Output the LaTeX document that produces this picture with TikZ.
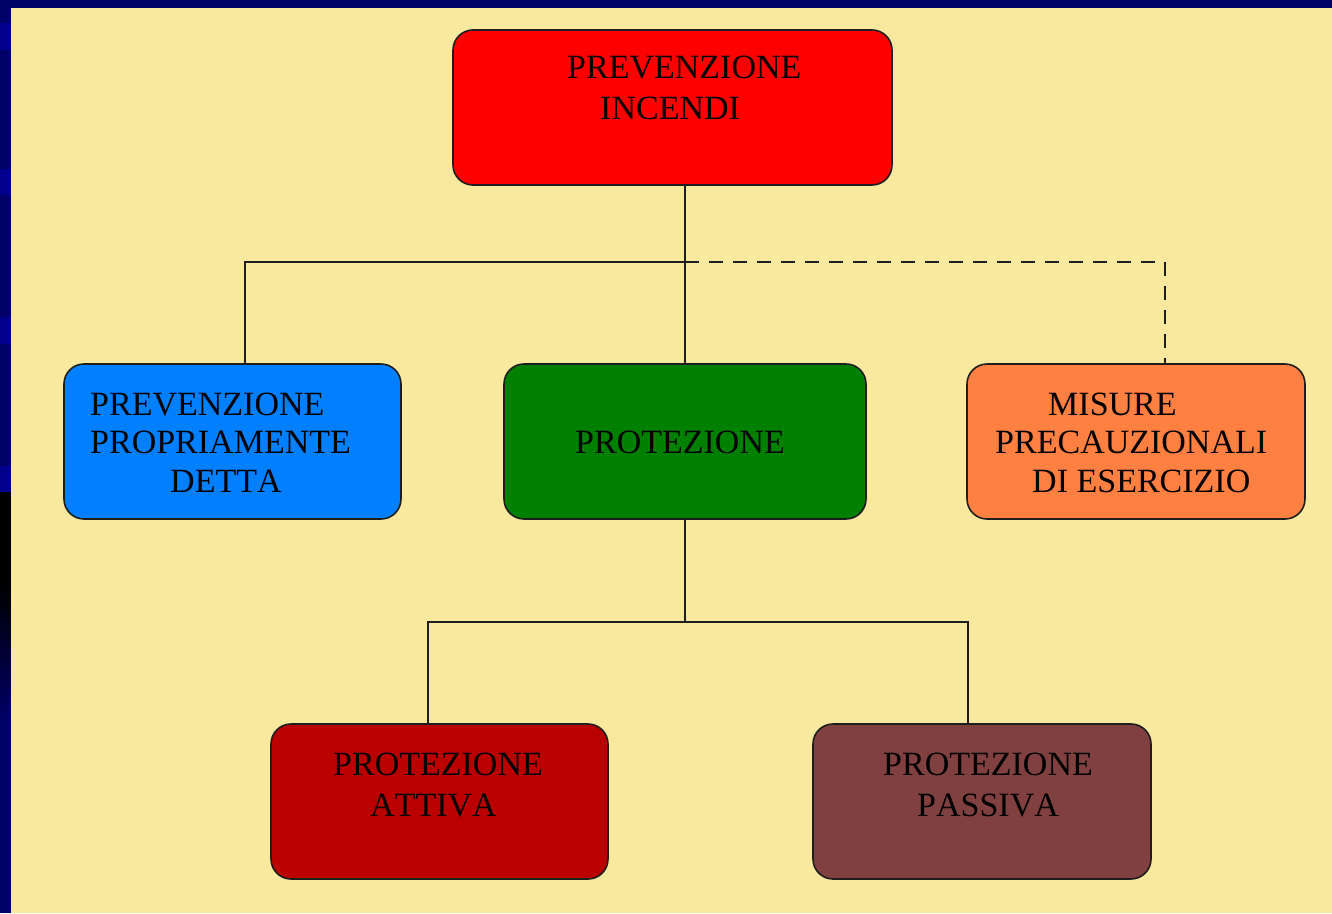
\documentclass[tikz,border=0pt]{standalone}
\usepackage{fontspec}
\setmainfont[Kerning=Off]{Liberation Serif}
\definecolor{navy}{RGB}{0,0,102}
\definecolor{navylight}{RGB}{0,0,140}
\definecolor{paper}{RGB}{248,233,158}
\definecolor{cred}{RGB}{255,0,0}
\definecolor{cblue}{RGB}{0,128,255}
\definecolor{cgreen}{RGB}{0,128,0}
\definecolor{corange}{RGB}{255,128,64}
\definecolor{cdarkred}{RGB}{187,0,0}
\definecolor{cbrown}{RGB}{128,64,64}
\definecolor{edge}{RGB}{30,30,30}
\begin{document}
\begin{tikzpicture}[x=1pt,y=-1pt,
  box/.style={draw=edge,line width=1.6pt,rounded corners=20pt,
    minimum width=#1,minimum height=155pt,inner sep=0pt},
  label/.style={anchor=base west,inner sep=0pt,text=black,
    font=\fontsize{34}{40}\selectfont},
  link/.style={draw=edge,line width=1.6pt},
  dlink/.style={link,dash pattern=on 14pt off 10pt}]
\useasboundingbox (0,0) rectangle (1332,913);
% page background with the side strip
\fill[navy] (0,0) rectangle (1332,913);
\foreach \ya/\yb in {23/50,169/195,317/344,466/492}
  \fill[navylight] (0,\ya) rectangle (11,\yb);
\fill[black] (0,492) rectangle (11,582);
\shade[top color=black,bottom color=navy] (0,582) rectangle (11,720);
\fill[paper] (11,8) rectangle (1332,913);

% boxes
\node[box=439pt,fill=cred]     (top)    at (672.5,107.5) {};
\node[box=337pt,fill=cblue]    (prev)   at (232.5,441.5) {};
\node[box=362pt,fill=cgreen]   (prot)   at (685,441.5) {};
\node[box=338pt,fill=corange]  (misure) at (1136,441.5) {};
\node[box=337pt,fill=cdarkred] (attiva) at (439.5,801.5) {};
\node[box=338pt,fill=cbrown]   (passiva) at (982,801.5) {};

% texts
\node[label] (t1a) at (567,78)  {PREVENZIONE};
\node[label] (t1b) at (600,119) {INCENDI};
\node[label] (t2a) at (90,415)  {PREVENZIONE};
\node[label] (t2b) at (90,453)  {PROPRIAMENTE};
\node[label] (t2c) at (170,492) {DETTA};
\node[label] (t3a) at (575,453) {PROTEZIONE};
\node[label] (t4a) at (1048,415) {MISURE};
\node[label] (t4b) at (995,453) {PRECAUZIONALI};
\node[label] (t4c) at (1032,492) {DI ESERCIZIO};
\node[label] (t5a) at (333,775) {PROTEZIONE};
\node[label] (t5b) at (370,816) {ATTIVA};
\node[label] (t6a) at (883,775) {PROTEZIONE};
\node[label] (t6b) at (917,816) {PASSIVA};

% junctions of the tree
\coordinate (jc) at (685,262);
\coordinate (jl) at (245,262);
\coordinate (jr) at (1165,262);
\coordinate (kc) at (685,622);
\coordinate (kl) at (428,622);
\coordinate (kr) at (968,622);

% connectors
\draw[link] (top.south -| prot.north) -- (prot.north);
\draw[link] (jc) -- (jl) -- (jl |- prev.north);
\draw[dlink] (jc) -- (jr) -- (jr |- misure.north);
\draw[link] (prot.south) -- (kc);
\draw[link] (kl |- attiva.north) -- (kl) -- (kr) -- (kr |- passiva.north);
\end{tikzpicture}
\end{document}
